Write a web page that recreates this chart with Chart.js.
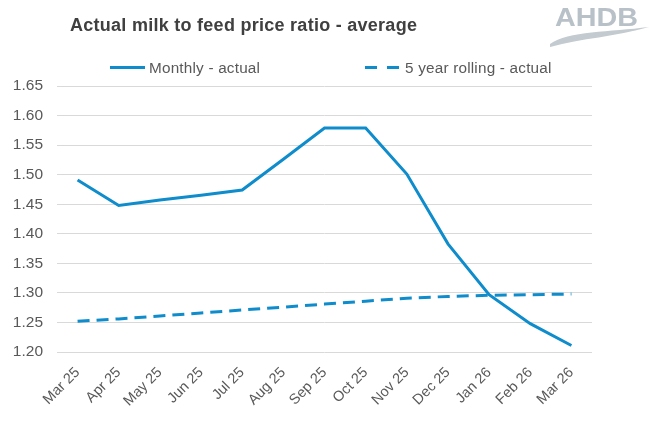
<!DOCTYPE html>
<html>
<head>
<meta charset="utf-8">
<script src="https://cdn.jsdelivr.net/npm/chart.js@4.4.1/dist/chart.umd.min.js"></script>
<style>
  html, body { margin: 0; padding: 0; background: #fff; }
  #wrap { position: relative; width: 651px; height: 427px; font-family: "Liberation Sans", Arial, sans-serif; }
  #titulo { position: absolute; left: 70px; top: 15.5px; font-size: 18px; line-height: 1; letter-spacing: 0.27px; font-weight: bold; color: #404040; white-space: nowrap; }
  #logo { position: absolute; left: 0; top: 0; }
  .txt { position: absolute; font-size: 15.3px; line-height: 1; letter-spacing: 0.2px; color: #595959; white-space: nowrap; }
  .raya { position: absolute; height: 3px; background: #0e8ccb; }
  canvas { position: absolute; left: 0; top: 0; }
</style>
</head>
<body>
<div id="wrap">
  <canvas id="grafico" width="651" height="427"></canvas>
  <div id="titulo">Actual milk to feed price ratio - average</div>
  <svg id="logo" width="651" height="60">
    <text x="555" y="25.5" font-family="Liberation Sans" font-weight="bold" font-size="25.5" fill="#b9c1c8" textLength="83" lengthAdjust="spacingAndGlyphs">AHDB</text>
    <path d="M550 44 C568 31 610 32 649 27 C615 37 582 38 550 47 Z" fill="#c3cad0"/>
  </svg>
  <!-- leyenda -->
  <div class="raya" style="left:110px; top:66px; width:35px"></div>
  <div class="txt" style="left:149px; top:59.8px">Monthly - actual</div>
  <div class="raya" style="left:365px; top:66px; width:12px"></div>
  <div class="raya" style="left:387px; top:66px; width:12px"></div>
  <div class="txt" style="left:405px; top:59.8px">5 year rolling - actual</div>
</div>
<script>
// datos
const meses = ['Mar 25', 'Apr 25', 'May 25', 'Jun 25', 'Jul 25', 'Aug 25', 'Sep 25',
               'Oct 25', 'Nov 25', 'Dec 25', 'Jan 26', 'Feb 26', 'Mar 26'];
const mensual = [1.491, 1.448, 1.457, 1.465, 1.474, 1.526, 1.579, 1.579, 1.501, 1.383, 1.297, 1.248, 1.211];
const rolling5 = [1.252, 1.256, 1.261, 1.266, 1.271, 1.276, 1.281, 1.286, 1.291, 1.294, 1.296, 1.297, 1.298];

const azul = '#0e8ccb';
const gris = '#595959';

new Chart(document.getElementById('grafico').getContext('2d'), {
    type: 'line',
    data: {
        labels: meses,
        datasets: [{
            label: 'Monthly - actual',
            data: mensual,
            borderColor: azul,
            borderWidth: 3,
            pointRadius: 0,
            tension: 0
        }, {
            label: '5 year rolling - actual',
            data: rolling5,
            borderColor: azul,
            borderWidth: 3,
            borderDash: [12, 7],
            pointRadius: 0,
            tension: 0
        }]
    },
    options: {
        responsive: false,
        animation: false,
        layout: { padding: { top: 86, right: 59, left: 0, bottom: 0 } },
        plugins: { legend: { display: false }, tooltip: { enabled: false } },
        scales: {
            x: {
                offset: true,
                grid: { display: false },
                border: { display: false },
                ticks: {
                    color: gris,
                    font: { family: 'Liberation Sans', size: 14.5 },
                    maxRotation: 45,
                    minRotation: 45,
                    padding: 4
                },
                afterFit: (s) => { s.height = 75; }
            },
            y: {
                min: 1.2,
                max: 1.65,
                grid: { color: '#d9d9d9', drawTicks: false },
                border: { display: false },
                ticks: {
                    stepSize: 0.05,
                    color: gris,
                    font: { family: 'Liberation Sans', size: 15.5 },
                    padding: 14,
                    callback: (v) => v.toFixed(2)
                },
                afterFit: (s) => { s.width = 57; }
            }
        }
    }
});
</script>
</body>
</html>
